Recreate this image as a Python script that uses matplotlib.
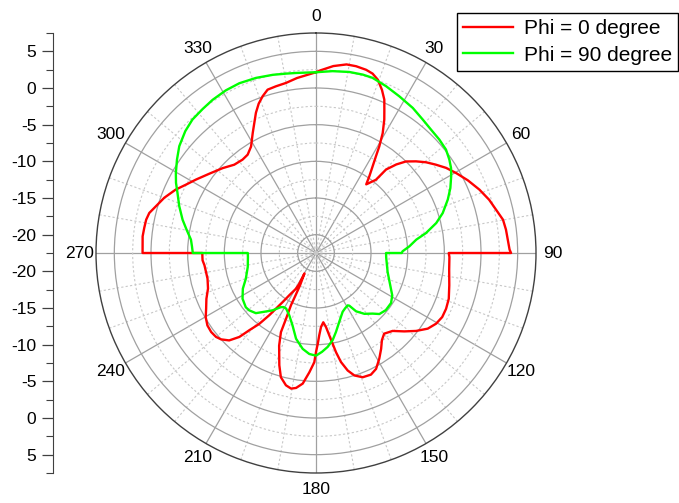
import numpy as np
import matplotlib.pyplot as plt

plt.rcParams['font.family'] = ['Liberation Sans', 'DejaVu Sans']

# Radiation pattern cuts, angle in degrees and gain in dB
phi0_theta = [0, 1.3, 5.3, 9.2, 12.1, 15.3, 17.5, 19.6, 22, 24, 25.5, 27.1, 29.1, 30.7, 31.8,
              33.2, 34.8, 36.2, 39.3, 40.0, 42.2, 44.5, 47.5, 50.5, 53.6, 56.8, 60.3, 64.4,
              68.8, 72.9, 76.5, 79.9, 83, 89, 90,
              90, 91.7, 97.1, 103.6, 109, 113.2, 116.9, 120.5, 124.1, 127.9, 131.6, 135.5,
              139.8, 142.9, 145.8, 149.1, 152.6, 155.7, 159.4, 162.6, 164.9, 167.1, 168.6,
              170.8, 172.3, 174, 176.1, 177.7, 178.9, 180, 180.9, 183.2, 185.8, 188.4,
              190.4, 192.8, 195.8, 198.1, 201.7, 203.9, 204.5, 205.6, 205.8, 206.3, 209.5,
              208.5, 209.3, 212.3, 214.2, 216.9, 218.7, 220.8, 222.4, 224.8, 227.7, 230,
              233, 236.3, 239.8, 243.1, 247.3, 251.8, 256.7, 263.7, 266.3, 268, 270,
              270, 275.5, 278.3, 281.1, 283.5, 286.3, 290, 294.3, 297.7, 301.4, 306.6,
              312.3, 317.2, 321.8, 325.2, 328.6, 330.5, 332.2, 334.6, 336.8, 339, 341.2,
              343.5, 346.5, 350, 353.8, 358, 360]
phi0_gain = [2.15, 2.4, 3.1, 3.55, 3.55, 3.4, 3.15, 2.6, 1.5, 0.4, -0.85, -2.06, -3.8, -5.6, -7.0,
             -8.4, -9.75, -10.9, -9.6, -7.65, -6.2, -5.0, -4.0, -3.05, -2.2, -1.3, -0.5, 0.45,
             1.4, 2.2, 2.75, 3.4, 3.6, 3.9, 4.1,
             -4.4, -4.3, -4.2, -3.8, -3.35, -3.2, -3.2, -3.5, -4.1, -5.2, -6.4, -7.6,
             -8.1, -7.6, -6.7, -5.7, -4.7, -4.3, -4.4, -5.0, -5.9, -7.25, -8.7,
             -11.1, -12.3, -13.0, -12.4, -11.3, -10.1, -9.0, -7.6, -6.2, -4.6, -3.9,
             -3.7, -4.0, -4.9, -6.4, -8.9, -10.7, -12.65, -14.6, -16.1, -17.6, -19.3,
             -17.7, -16.9, -15.7, -14.4, -11.9, -10.1, -8.6, -7.0, -5.7, -5.0, -4.7,
             -4.6, -4.7, -5.1, -5.7, -6.3, -7.0, -7.3, -7.2, -7.0, -7.0, -7.0,
             1.15, 1.25, 1.17, 1.1, 0.88, 0.24, -0.48, -1.5, -2.46, -3.3, -4.37,
             -5.3, -6.09, -6.3, -6.17, -5.5, -4.75, -4.0, -2.87, -1.7, -0.69, 0.08,
             0.73, 0.88, 1.05, 1.5, 1.9, 2.15]

phi90_theta = [0, 5.2, 10.4, 14.7, 17.9, 22.8, 28, 33.7, 38.7, 43, 47.4, 51.5, 55, 57.8, 60.4,
               64.2, 67.9, 72.5, 76, 79.7, 82.4, 85.9, 88.9, 90,
               90, 94, 99.4, 104.8, 113.2, 119.1, 123.7, 129.3, 133.9, 137, 141.5, 145.5,
               147.7, 148.8, 151.9, 155.6, 161.3, 165.8, 169.2, 172.9, 176.5, 180, 183.8,
               187.9, 193.1, 197.9, 203.2, 208.3, 210.9, 213, 217.1, 222.1, 225, 229.3,
               232.3, 238.1, 244, 249.8, 258.4, 266.6, 270,
               270, 273.1, 276.1, 280.2, 284, 288.9, 293.5, 296.6, 299.7, 303.9, 308, 313,
               317.2, 321.8, 326, 331, 335.7, 341.1, 346.4, 350.5, 353.7, 360]
phi90_gain = [2.15, 2.4, 2.6, 2.65, 2.6, 2.17, 1.7, 1.28, 0.8, 0.5, 0.35, 0.15, -0.3, -0.74, -1.3,
              -2.15, -3.1, -4.38, -5.6, -7.25, -8.7, -9.73, -10.7, -10.8,
              -12.95, -12.9, -12.7, -12.4, -11.5, -10.6, -10.2, -10.2, -10.5, -11.2, -11.9, -12.85,
              -14.0, -14.15, -14.0, -13.7, -12.6, -11.4, -10.4, -9.6, -9.0, -8.5, -8.7,
              -9.3, -10.5, -12.1, -13.25, -13.9, -13.9, -13.7, -12.7, -11.65, -10.9, -10.5,
              -10.4, -10.7, -11.4, -12.3, -13.0, -13.2, -13.2,
              -5.7, -5.56, -5.35, -4.57, -3.75, -2.79, -1.9, -1.15, -0.5, 0.34, 1.16, 1.87,
              2.3, 2.49, 2.7, 2.86, 2.9, 2.74, 2.5, 2.3, 2.2, 2.15]

r_min, r_max = -22.5, 7.5
major_r = [-20, -15, -10, -5, 0, 5]
minor_r = [-17.5, -12.5, -7.5, -2.5, 2.5]
angle_labels = list(range(0, 360, 30))

W, H = 679, 503
fig = plt.figure(figsize=(W / 100, H / 100), dpi=100)
cx, cy, rad = 316, 253, 220
rect = [(cx - rad) / W, (H - cy - rad) / H, 2 * rad / W, 2 * rad / H]

ax = fig.add_axes(rect, projection='polar')
ax.set_theta_zero_location('N')
ax.set_theta_direction(-1)
ax.set_rlim(r_min, r_max)

ax.plot(np.radians(phi0_theta), phi0_gain, color='#ff0000', lw=1.7, label='Phi = 0 degree')
ax.plot(np.radians(phi90_theta), phi90_gain, color='#00ff00', lw=1.7, label='Phi = 90 degree')

ax.set_xticks(np.radians(angle_labels))
ax.set_xticklabels([str(a) for a in angle_labels], fontsize=12.5)
ax.set_xticks(np.radians([a for a in range(0, 360, 10) if a % 30]), minor=True)
ax.set_yticks(major_r)
ax.set_yticks(minor_r, minor=True)
ax.set_yticklabels([])
ax.grid(which='major', color='#a0a0a0', lw=0.9, ls='-')
ax.grid(which='minor', color='#c8c8c8', lw=0.8, ls=(0, (2, 2)))
ax.tick_params(axis='x', which='major', direction='in', length=8, width=0.9,
               color='#404040', pad=5)
ax.tick_params(axis='x', which='minor', direction='in', length=4, width=0.8, color='#404040')
ax.tick_params(axis='y', which='both', length=0)
ax.spines['polar'].set_color('#404040')
ax.spines['polar'].set_linewidth(1.0)

# mirrored linear scale on the left, gain measured from the centre outwards
lax = fig.add_axes([53 / W, rect[1], 0.0001, rect[3]])
lax.set_ylim(-30, 30)
for s in ['top', 'right', 'bottom']:
    lax.spines[s].set_visible(False)
lax.spines['left'].set_color('#404040')
lax.set_xticks([])
pos = [r - r_min for r in major_r]
ticks = [-p for p in pos[::-1]] + pos
lax.set_yticks(ticks)
lax.set_yticklabels([str(int(abs(t) + r_min)) for t in ticks], fontsize=12.5)
lax.set_yticks(np.arange(-30, 30.1, 5), minor=True)
lax.tick_params(axis='y', which='major', length=8, width=0.9, color='#404040', pad=4)
lax.tick_params(axis='y', which='minor', length=5, width=0.8, color='#404040')

fig.legend(loc='upper right', bbox_to_anchor=(678 / W, 1 - 13 / H), fontsize=15,
           frameon=True, fancybox=False, edgecolor='black', framealpha=1,
           handlelength=2.4, borderpad=0.3, labelspacing=0.35, handletextpad=0.5,
           borderaxespad=0)

fig.savefig('out.png', dpi=100)
